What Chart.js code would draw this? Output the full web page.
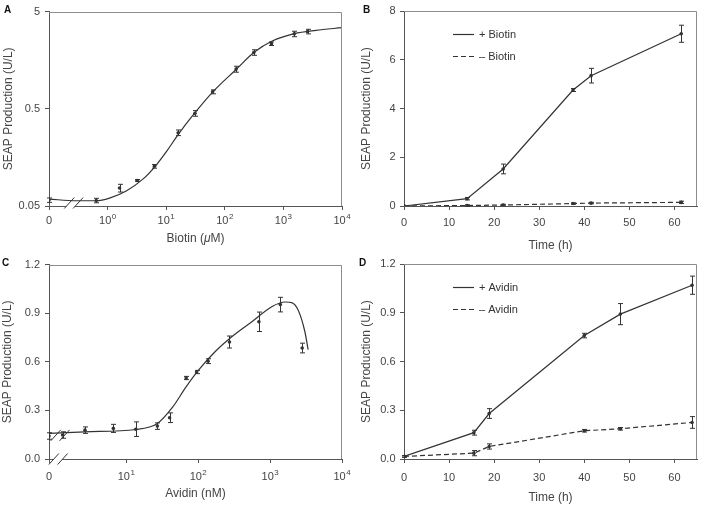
<!DOCTYPE html>
<html><head><meta charset="utf-8">
<script src="https://cdn.jsdelivr.net/npm/chart.js@4.4.1/dist/chart.umd.min.js"></script>
<style>
html,body{margin:0;padding:0;background:#fff;}
body{width:703px;height:506px;position:relative;overflow:hidden;font-family:"Liberation Sans",Arial,sans-serif;}
.panel{position:absolute;}
.panel canvas{display:block;}
.lbl{position:absolute;font-weight:bold;font-size:10px;line-height:10px;color:#111;}
</style></head><body>
<div class="panel" style="left:0;top:0;width:352px;height:253px"><canvas id="cA" width="352" height="253"></canvas></div>
<div class="panel" style="left:355px;top:0;width:348px;height:253px"><canvas id="cB" width="348" height="253"></canvas></div>
<div class="panel" style="left:0;top:253px;width:352px;height:253px"><canvas id="cC" width="352" height="253"></canvas></div>
<div class="panel" style="left:355px;top:253px;width:348px;height:253px"><canvas id="cD" width="348" height="253"></canvas></div>
<div class="lbl" style="left:4px;top:5px">A</div>
<div class="lbl" style="left:363px;top:5px">B</div>
<div class="lbl" style="left:2px;top:258px">C</div>
<div class="lbl" style="left:359px;top:258px">D</div>
<script>
// ---------- Panel A: SEAP vs biotin (log-log) ----------
const biotinConc = [0, 0.64, 1.6, 3.2, 6.3, 16, 31, 62, 156, 313, 625, 1535, 2580];
const seapBiotin = [0.0575, 0.057, 0.0766, 0.0916, 0.128, 0.284, 0.449, 0.748, 1.28, 1.9, 2.34, 2.95, 3.12];
const seapBiotinErr = [0.003, 0.003, 0.007, 0.002, 0.0055, 0.019, 0.03, 0.035, 0.09, 0.125, 0.1, 0.19, 0.17];
const fitBiotinConc = [0, 0.29, 0.64, 1.08, 2.08, 4.0, 6.77, 10, 16.2, 31, 62, 156, 316, 658, 1542, 3600, 10000];
const fitBiotinSeap = [0.0589, 0.0566, 0.0566, 0.0603, 0.0714, 0.0944, 0.132, 0.180, 0.275, 0.456, 0.743, 1.27, 1.91, 2.51, 2.97, 3.21, 3.42];
const ticksAx = [0, 1, 10, 100, 1000, 10000];
const labelsAx = [['0', ''], ['10', '0'], ['10', '1'], ['10', '2'], ['10', '3'], ['10', '4']];
const ticksAy = [0.05, 0.5, 5];
const labelsAy = ['0.05', '0.5', '5'];

// ---------- Panel B: SEAP vs time, +/- biotin ----------
const timeB = [0, 14, 22, 37.5, 41.5, 61.5];
const plusBiotin = [0, 0.3, 1.52, 4.76, 5.35, 7.07];
const plusBiotinErr = [0, 0.05, 0.2, 0.06, 0.3, 0.35];
const minusBiotin = [0, 0.02, 0.04, 0.1, 0.12, 0.15];
const minusBiotinErr = [0, 0.03, 0.03, 0.03, 0.03, 0.05];
const ticksBx = [0, 10, 20, 30, 40, 50, 60];
const ticksBy = [0, 2, 4, 6, 8];

// ---------- Panel C: SEAP vs avidin ----------
const avidinConc = [0, 1.3, 2.66, 6.6, 13.5, 27, 40, 68, 95, 137, 272, 698, 1387, 2793];
const seapAvidin = [0.142, 0.148, 0.178, 0.189, 0.184, 0.203, 0.255, 0.5, 0.537, 0.604, 0.722, 0.847, 0.953, 0.685];
const seapAvidinErr = [0.02, 0.02, 0.02, 0.025, 0.045, 0.02, 0.03, 0.01, 0.01, 0.015, 0.037, 0.06, 0.045, 0.03];
const fitAvidinConc = [0, 2.66, 13.5, 27, 44, 67, 103, 174, 296, 558, 1054, 1611, 1991, 2460, 3041, 3381];
const fitAvidinSeap = [0.158, 0.168, 0.182, 0.219, 0.32, 0.442, 0.553, 0.665, 0.756, 0.847, 0.94, 0.969, 0.965, 0.918, 0.787, 0.675];
const ticksCx = [0, 10, 100, 1000, 10000];
const labelsCx = [['0', ''], ['10', '1'], ['10', '2'], ['10', '3'], ['10', '4']];
const ticksCy = [0, 0.3, 0.6, 0.9, 1.2];

// ---------- Panel D: SEAP vs time, +/- avidin ----------
const timeD = [0, 15.5, 18.9, 40, 48, 63.9];
const plusAvidin = [0.016, 0.162, 0.28, 0.76, 0.892, 1.07];
const plusAvidinErr = [0.005, 0.015, 0.03, 0.014, 0.065, 0.056];
const minusAvidin = [0.016, 0.036, 0.077, 0.174, 0.186, 0.225];
const minusAvidinErr = [0.005, 0.016, 0.016, 0.008, 0.008, 0.036];
const ticksDx = [0, 10, 20, 30, 40, 50, 60];
const ticksDy = [0, 0.3, 0.6, 0.9, 1.2];

// ---------- styling ----------
const FONT = '"Liberation Sans", Arial, Helvetica, sans-serif';
const TXT = '#454545';
const AXC = '#555555';
const LINE = '#333333';
const ZERO_A = 0.1;   // log-axis position standing for "0"
const ZERO_C = 0.84;

function pts(xs, ys, zero) {
  return xs.map((x, i) => ({x: (x === 0 && zero) ? zero : x, y: ys[i]}));
}

function axis(o) {
  const horiz = o.position === 'bottom';
  return {
    type: o.type, position: o.position, min: o.min, max: o.max,
    afterBuildTicks: s => { s.ticks = o.ticks.map(v => ({value: v})); },
    afterFit: s => { if (horiz) s.height = o.size; else s.width = o.size; },
    powerLabels: o.power || null,
    ticks: {
      display: !o.power,
      callback: (v, i) => o.labels ? o.labels[i] : v,
      autoSkip: false, maxRotation: 0, minRotation: 0, padding: o.pad,
      color: TXT, font: {family: FONT, size: 11}
    },
    grid: {display: true, drawOnChartArea: false, drawTicks: true, tickLength: 4, tickColor: AXC, tickWidth: 1},
    border: {display: true, color: AXC, width: 1},
    title: {
      display: o.title !== null, text: o.title, color: TXT,
      font: {family: FONT, size: 12},
      padding: horiz ? {top: 0, bottom: o.titlePad} : {top: o.titlePad, bottom: 0}
    }
  };
}

// tick labels with superscript exponents (10^n) on log axes
const powerLabels = {
  id: 'powerLabels',
  afterDraw(chart) {
    const ctx = chart.ctx, xs = chart.scales.x;
    const cfg = xs.options.powerLabels;
    if (!cfg) return;
    ctx.save();
    ctx.fillStyle = TXT; ctx.textBaseline = 'middle'; ctx.textAlign = 'left';
    const y = xs.top + cfg.dy;
    xs.ticks.forEach((t, i) => {
      const [b, e] = cfg.labels[i];
      ctx.font = '11px ' + FONT; const wb = ctx.measureText(b).width;
      ctx.font = '8px ' + FONT; const we = e ? ctx.measureText(e).width + 0.5 : 0;
      const px = xs.getPixelForValue(t.value);
      let x = px - (wb + we) / 2;
      ctx.font = '11px ' + FONT; ctx.fillText(b, x, y);
      if (e) { ctx.font = '8px ' + FONT; ctx.fillText(e, x + wb + 0.5, y - 4); }
    });
    ctx.restore();
  }
};

const errorBars = {
  id: 'errorBars',
  afterDatasetsDraw(chart) {
    const ctx = chart.ctx;
    chart.data.datasets.forEach((ds, di) => {
      if (!ds.errors) return;
      const meta = chart.getDatasetMeta(di);
      const ys = chart.scales[meta.yAxisID];
      ctx.save();
      ctx.strokeStyle = LINE; ctx.lineWidth = 1; ctx.setLineDash([]);
      meta.data.forEach((p, i) => {
        const e = ds.errors[i]; if (!e) return;
        const v = ds.data[i].y;
        const y1 = ys.getPixelForValue(v + e);
        const y2 = ys.getPixelForValue(v - e);
        const x = Math.round(p.x) + 0.5;
        ctx.beginPath();
        ctx.moveTo(x, y1); ctx.lineTo(x, y2);
        ctx.moveTo(x - 2.5, y1); ctx.lineTo(x + 2.5, y1);
        ctx.moveTo(x - 2.5, y2); ctx.lineTo(x + 2.5, y2);
        ctx.stroke();
      });
      ctx.restore();
    });
  }
};

const frame = {
  id: 'frame',
  afterDraw(chart) {
    const {ctx, chartArea: a} = chart;
    ctx.save();
    ctx.strokeStyle = '#8c8c8c'; ctx.lineWidth = 1;
    const t = Math.round(a.top) + 0.5, r = Math.round(a.right) - 0.5;
    ctx.beginPath();
    ctx.moveTo(a.left, t); ctx.lineTo(r, t); ctx.lineTo(r, a.bottom);
    ctx.stroke();
    ctx.restore();
  }
};

const breaks = {
  id: 'breaks',
  afterDraw(chart, args, opts) {
    if (!opts || !opts.marks) return;
    const ctx = chart.ctx, xs = chart.scales.x, ys = chart.scales.y;
    opts.marks.forEach(m => {
      const cx = xs.getPixelForValue(m.x);
      const cy = (m.y === undefined ? ys.bottom : ys.getPixelForValue(m.y)) + (m.dy || 0);
      const hw = 5, hh = 5.5, off = 4.4;
      const xAt = (o, y) => cx + o - hw * (y - cy) / hh;
      ctx.save();
      if (m.gap) {
        const yb = ys.bottom;
        ctx.fillStyle = '#fff';
        ctx.beginPath();
        ctx.moveTo(xAt(-off, yb - 2), yb - 2); ctx.lineTo(xAt(off, yb - 2), yb - 2);
        ctx.lineTo(xAt(off, yb + 2), yb + 2); ctx.lineTo(xAt(-off, yb + 2), yb + 2);
        ctx.closePath(); ctx.fill();
      }
      ctx.strokeStyle = LINE; ctx.lineWidth = 1;
      ctx.beginPath();
      [-off, off].forEach(o => { ctx.moveTo(xAt(o, cy + hh), cy + hh); ctx.lineTo(xAt(o, cy - hh), cy - hh); });
      ctx.stroke();
      ctx.restore();
    });
  }
};

const innerLegend = {
  id: 'innerLegend',
  afterDraw(chart, args, opts) {
    if (!opts || !opts.show) return;
    const ctx = chart.ctx, a = chart.chartArea;
    const items = chart.data.datasets.filter(d => d.legend);
    ctx.save();
    ctx.font = '11px ' + FONT; ctx.fillStyle = '#333'; ctx.textBaseline = 'middle';
    items.forEach((d, i) => {
      const y = Math.round(a.top + 23 + i * 21.5) + 0.5;
      ctx.strokeStyle = LINE; ctx.lineWidth = 1.2;
      ctx.setLineDash(d.borderDash || []);
      ctx.beginPath(); ctx.moveTo(a.left + 49, y); ctx.lineTo(a.left + 70, y); ctx.stroke();
      ctx.fillText(d.label, a.left + 75, y);
    });
    ctx.restore();
  }
};

const richTitle = {
  id: 'richTitle',
  afterDraw(chart, args, opts) {
    if (!opts || !opts.parts) return;
    const ctx = chart.ctx, a = chart.chartArea;
    ctx.save();
    ctx.fillStyle = TXT; ctx.textBaseline = 'middle';
    const fonts = opts.parts.map(p => (p.italic ? 'italic ' : '') + '12px ' + FONT);
    let w = 0;
    opts.parts.forEach((p, i) => { ctx.font = fonts[i]; w += ctx.measureText(p.text).width; });
    let x = (a.left + a.right) / 2 - w / 2;
    const y = a.bottom + opts.dy;
    opts.parts.forEach((p, i) => { ctx.font = fonts[i]; ctx.fillText(p.text, x, y); x += ctx.measureText(p.text).width; });
    ctx.restore();
  }
};

Chart.register(errorBars, frame, breaks, innerLegend, richTitle, powerLabels);

function base(plugins, xAx, yAx, padRight) {
  return {
    responsive: false, animation: false, devicePixelRatio: 1,
    layout: {padding: {left: 0, top: 9, right: padRight, bottom: 0}},
    scales: {x: xAx, y: yAx},
    plugins: Object.assign({legend: {display: false}, tooltip: {enabled: false}}, plugins)
  };
}

const markerStyle = {pointRadius: 1.8, pointBackgroundColor: LINE, pointBorderColor: LINE, pointBorderWidth: 0};

// Panel A
new Chart(document.getElementById('cA'), {
  type: 'scatter',
  data: {datasets: [
    {data: pts(fitBiotinConc, fitBiotinSeap, ZERO_A), showLine: true, pointRadius: 0, borderColor: LINE, borderWidth: 1.2, cubicInterpolationMode: 'monotone'},
    Object.assign({data: pts(biotinConc, seapBiotin, ZERO_A), errors: seapBiotinErr, showLine: false}, markerStyle)
  ]},
  options: base(
    {breaks: {marks: [{x: 0.264, dy: -3, gap: true}]}, richTitle: {dy: 33, parts: [{text: 'Biotin ('}, {text: '\u03BC', italic: true}, {text: 'M)'}]}},
    axis({type: 'logarithmic', position: 'bottom', min: ZERO_A, max: 10000, ticks: ticksAx.map(v => v === 0 ? ZERO_A : v), power: {labels: labelsAx, dy: 15}, size: 47, pad: 3, title: null, titlePad: 0}),
    axis({type: 'logarithmic', position: 'left', min: 0.05, max: 5, ticks: ticksAy, labels: labelsAy, size: 49, pad: 5, title: 'SEAP Production (U/L)', titlePad: 1}),
    10)
});

// Panel B
new Chart(document.getElementById('cB'), {
  type: 'scatter',
  data: {datasets: [
    Object.assign({label: '+ Biotin', legend: true, data: pts(timeB, plusBiotin), errors: plusBiotinErr, showLine: true, borderColor: LINE, borderWidth: 1.2, tension: 0}, markerStyle),
    Object.assign({label: '\u2013 Biotin', legend: true, data: pts(timeB, minusBiotin), errors: minusBiotinErr, showLine: true, borderColor: LINE, borderWidth: 1.2, borderDash: [5, 3], tension: 0}, markerStyle)
  ]},
  options: base(
    {innerLegend: {show: true}},
    axis({type: 'linear', position: 'bottom', min: 0, max: 65, ticks: ticksBx, size: 47, pad: 6, title: 'Time (h)', titlePad: 0}),
    axis({type: 'linear', position: 'left', min: 0, max: 8, ticks: ticksBy, size: 49, pad: 4.5, title: 'SEAP Production (U/L)', titlePad: 4.5}),
    6)
});

// Panel C
new Chart(document.getElementById('cC'), {
  type: 'scatter',
  data: {datasets: [
    {data: pts(fitAvidinConc, fitAvidinSeap, ZERO_C), showLine: true, pointRadius: 0, borderColor: LINE, borderWidth: 1.2, cubicInterpolationMode: 'monotone'},
    Object.assign({data: pts(avidinConc, seapAvidin, ZERO_C), errors: seapAvidinErr, showLine: false}, markerStyle)
  ]},
  options: base(
    {breaks: {marks: [{x: 1.13, dy: 0, gap: true}, {x: 1.2, y: 0.146}]}},
    axis({type: 'logarithmic', position: 'bottom', min: ZERO_C, max: 10000, ticks: ticksCx.map(v => v === 0 ? ZERO_C : v), power: {labels: labelsCx, dy: 17.5}, size: 47, pad: 5, title: 'Avidin (nM)', titlePad: 5.5}),
    axis({type: 'linear', position: 'left', min: 0, max: 1.2, ticks: ticksCy, labels: ticksCy.map(v => v.toFixed(1)), size: 49, pad: 5, title: 'SEAP Production (U/L)', titlePad: 0}),
    10)
});

// Panel D
new Chart(document.getElementById('cD'), {
  type: 'scatter',
  data: {datasets: [
    Object.assign({label: '+ Avidin', legend: true, data: pts(timeD, plusAvidin), errors: plusAvidinErr, showLine: true, borderColor: LINE, borderWidth: 1.2, tension: 0}, markerStyle),
    Object.assign({label: '\u2013 Avidin', legend: true, data: pts(timeD, minusAvidin), errors: minusAvidinErr, showLine: true, borderColor: LINE, borderWidth: 1.2, borderDash: [5, 3], tension: 0}, markerStyle)
  ]},
  options: base(
    {innerLegend: {show: true}},
    axis({type: 'linear', position: 'bottom', min: 0, max: 65, ticks: ticksDx, size: 47, pad: 8, title: 'Time (h)', titlePad: 1}),
    axis({type: 'linear', position: 'left', min: 0, max: 1.2, ticks: ticksDy, labels: ticksDy.map(v => v.toFixed(1)), size: 49, pad: 4.5, title: 'SEAP Production (U/L)', titlePad: 4}),
    6)
});
</script>
</body></html>
